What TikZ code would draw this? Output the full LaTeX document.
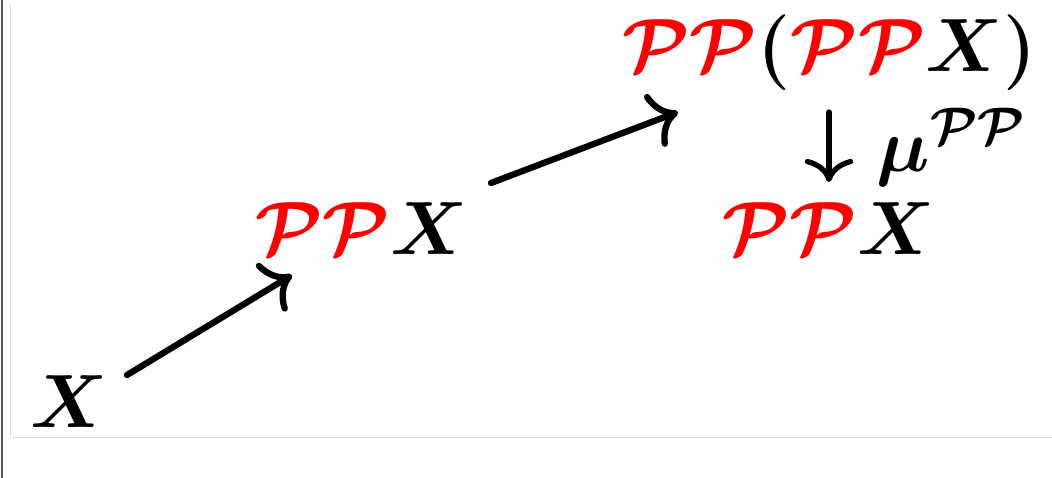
\RequirePackage{fix-cm}
\documentclass[tikz,border=0pt]{standalone}
\usepackage{amsmath}
\usepackage{bm}
\usetikzlibrary{arrows.meta}

\newcommand{\redP}{\textcolor{red}{\mathcal{P}}}

\begin{document}
\begin{tikzpicture}[>={Computer Modern Rightarrow[scale=1.6]}, font=\fontsize{43}{52}\selectfont\boldmath,
  obj/.style={inner sep=0pt, anchor=base west},
  arr/.style={->, line width=3.6pt, line cap=round}]

\useasboundingbox (0,0) rectangle (21.04,9.56);
\draw[gray!70!black, line width=1.2pt] (0.04,0) -- (0.04,9.56);
\draw[gray!25] (0.21,9.46) -- (0.21,0.82) -- (21.04,0.82);

\node[obj] (x) at (0.60,1.00) {$\bm{X}$};
\node[obj] (ppx) at (5.10,4.46) {$\redP\redP\bm{X}$};
\node[obj] (pppp) at (12.44,8.12) {$\redP\redP(\redP\redP\bm{X})$};
\node[obj] (ppx2) at (14.44,4.46) {$\redP\redP\bm{X}$};

\draw[arr] ([shift={(1.94,1.06)}]x.base west) -- ([shift={(0.74,-0.40)}]ppx.base west);
\draw[arr] ([shift={(4.72,1.44)}]ppx.base west) -- ([shift={(1.12,-0.80)}]pppp.base west);
\draw[arr, line width=3pt] ([shift={(4.14,-0.80)}]pppp.base west) -- ([shift={(2.14,1.46)}]ppx2.base west)
  node[midway, right, inner sep=0pt, xshift=0.9cm] (mu) {$\mu^{\mathcal{PP}}$};

\end{tikzpicture}
\end{document}
